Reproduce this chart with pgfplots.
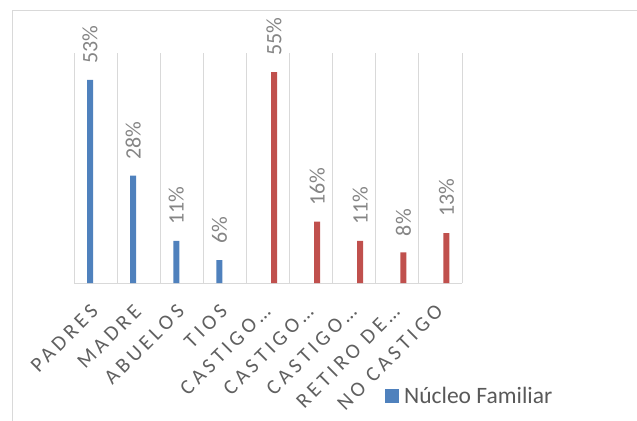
\documentclass[border=0pt]{standalone}
\usepackage{fontspec}
\setmainfont{Carlito}
\newfontfamily\spaced[LetterSpace=19]{Carlito}
\usepackage{pgfplots}
\pgfplotsset{compat=1.18}
\definecolor{barblue}{HTML}{4F81BD}
\definecolor{barred}{HTML}{C0504D}
\definecolor{gridgray}{HTML}{D9D9D9}
\definecolor{labelgray}{HTML}{595959}
\definecolor{ticktext}{HTML}{606060}
\definecolor{datagray}{HTML}{858585}

\begin{document}
\begin{tikzpicture}
  \begin{axis}[
    at={(74bp,138bp)}, anchor=south west,
    width=388bp, height=230bp, scale only axis,
    xmin=-0.5, xmax=8.5, ymin=0, ymax=60,
    axis x line*=bottom, axis y line=none,
    x axis line style={gridgray, line width=1bp, -},
    ytick=\empty,
    xtick={0,1,2,3,4,5,6,7,8},
    xticklabels={PADRES, MADRE, ABUELOS, TIOS, CASTIGO…, CASTIGO…, CASTIGO…, RETIRO DE…, NO CASTIGO},
    major tick length=0pt, minor tick length=0pt,
    minor xtick={-0.5,0.5,1.5,2.5,3.5,4.5,5.5,6.5,7.5,8.5},
    xminorgrids=true,
    minor grid style={gridgray, line width=1bp},
    xticklabel style={xshift=-1bp, yshift=-25bp, rotate=45, anchor=east,
      inner sep=0pt, font=\fontsize{21bp}{25bp}\spaced, text=ticktext},
    ybar, bar width=6bp,
    nodes near coords={\pgfmathprintnumber[assume math mode=true]{\pgfplotspointmeta}\%},
    every node near coord/.append style={yshift=16bp, rotate=90, anchor=west,
      inner sep=0pt, font=\fontsize{22bp}{26bp}\selectfont, text=datagray},
    legend style={at={(0.8015,-0.491)}, anchor=west, draw=none, fill=none,
      inner sep=0pt, font=\fontsize{23.5bp}{27bp}\selectfont, text=labelgray,
      cells={anchor=west}},
    clip=false,
  ]
    \addplot[fill=barblue, draw=none, bar shift=-5.5bp,
      legend image code/.code={\fill[barblue] (0bp,-7bp) rectangle (14bp,7bp);
        \path (17bp,0bp);}]
      coordinates {(0,53) (1,28) (2,11) (3,6)};
    \addlegendentry{Núcleo Familiar}
    \addplot[fill=barred, draw=none, bar shift=6bp, forget plot]
      coordinates {(4,55) (5,16) (6,11) (7,8) (8,13)};
  \end{axis}
  \draw[gridgray, line width=1bp] (12bp,0bp) -- (12bp,410bp) -- (637bp,410bp);
  \pgfresetboundingbox
  \useasboundingbox (0bp,0bp) rectangle (637bp,421bp);
\end{tikzpicture}
\end{document}
